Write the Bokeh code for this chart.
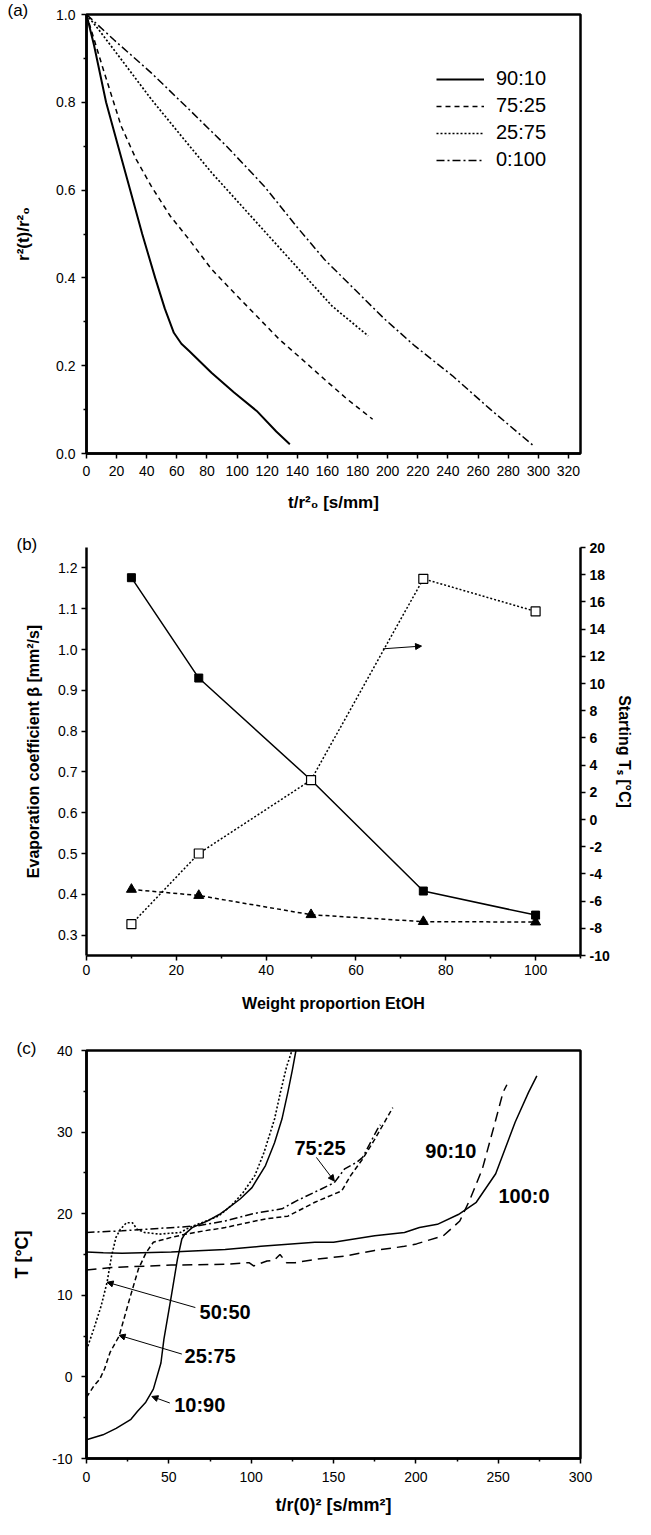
from bokeh.plotting import figure
from bokeh.models import (Range1d, LinearAxis, FixedTicker, Label, Arrow, NormalHead,
                          Legend, LegendItem, NumeralTickFormatter)
from bokeh.layouts import column
from bokeh.embed import file_html
from bokeh.resources import INLINE

FONT = "Liberation Sans"

# ---------------- panel (a) data ----------------
a_labels = ["90:10", "75:25", "25:75", "0:100"]
a_x_9010 = [0, 5, 13, 21, 29, 37, 45.6, 52, 58, 63, 68, 83, 98, 113, 126, 135]
a_y_9010 = [1.0, 0.93, 0.80, 0.70, 0.60, 0.50, 0.40, 0.33, 0.275, 0.25, 0.234, 0.184, 0.139, 0.097, 0.05, 0.021]
a_x_7525 = [0, 10.5, 23, 33, 43, 55.6, 68, 83, 98, 113, 128, 143, 158, 173, 190]
a_y_7525 = [1.0, 0.882, 0.746, 0.67, 0.609, 0.541, 0.488, 0.42, 0.366, 0.313, 0.26, 0.215, 0.169, 0.124, 0.078]
a_x_2575 = [0, 8, 23, 43, 63, 83, 103, 123, 143, 163, 187]
a_y_2575 = [1.0, 0.966, 0.898, 0.807, 0.723, 0.64, 0.564, 0.488, 0.412, 0.336, 0.268]
a_x_0100 = [0, 18, 43, 68, 93, 118, 140, 158, 178, 198, 218, 243, 268, 297]
a_y_0100 = [1.0, 0.943, 0.867, 0.784, 0.70, 0.609, 0.515, 0.442, 0.374, 0.306, 0.245, 0.177, 0.101, 0.017]
a_xticks = list(range(0, 321, 20))
a_yticks = [0.0, 0.2, 0.4, 0.6, 0.8, 1.0]
a_yminor = [0.1, 0.3, 0.5, 0.7, 0.9]

# ---------------- panel (b) data ----------------
b_etoh = [10, 25, 50, 75, 100]
b_beta_sq = [1.176, 0.93, 0.68, 0.408, 0.349]
b_beta_tri = [0.412, 0.397, 0.35, 0.333, 0.332]
b_ts = [-7.7, -2.5, 2.9, 17.7, 15.3]
b_xticks = [0, 20, 40, 60, 80, 100]
b_xminor = [10, 30, 50, 70, 90, 110]
b_lticks = [0.3, 0.4, 0.5, 0.6, 0.7, 0.8, 0.9, 1.0, 1.1, 1.2]
b_rticks = list(range(-10, 21, 2))

# ---------------- panel (c) data ----------------
c_x_1090 = [0, 10, 18, 27, 31, 36, 40.6, 45.2, 47, 51.5, 55.2, 57.9, 59.7, 64.2, 73.3, 80.6, 84.2,
            93.3, 100.5, 108.7, 114.2, 118.7, 122.3, 125, 127.2]
c_y_1090 = [-7.7, -7.1, -6.3, -5.2, -4.2, -3.1, -1.5, 1.7, 4.6, 9.9, 14.4, 16.9, 17.5, 18.3, 19.1, 19.9, 20.4,
            21.8, 23.2, 25.9, 28.7, 31.6, 34.9, 37.6, 40.0]
c_x_2575 = [0, 4.5, 8, 11, 14.3, 19.8, 26.1, 31.5, 36.1, 40.6, 51.5, 60.6, 71.5, 84.2, 100, 110, 122.3,
            138.7, 155, 160.5, 167.7, 175, 186]
c_y_2575 = [-2.5, -1.1, -0.3, 1.0, 3.0, 5.0, 9.5, 13.2, 15.2, 16.5, 17.1, 17.5, 17.9, 18.3, 19.0, 19.4, 19.7,
            21.4, 22.8, 24.7, 26.7, 29.1, 33.0]
c_x_5050 = [0, 4.3, 8.9, 12.5, 15.2, 17.9, 20.6, 24.3, 27.9, 30.7, 35.2, 44.3, 57, 62.4, 70, 80, 88,
            95.1, 102.3, 107.8, 114.2, 117.8, 121.5, 124.8]
c_y_5050 = [3.3, 5.8, 8.7, 11.6, 14.8, 17.1, 18.1, 18.9, 18.9, 18.1, 17.7, 17.5, 17.7, 18.3, 18.9, 19.7, 21.0,
            22.6, 24.7, 27.5, 31.6, 34.9, 38.0, 40.0]
c_x_7525 = [0, 21.6, 44.2, 67, 84.2, 101, 118.7, 127.8, 142.3, 150.5, 156.8, 164.1, 167.7, 176.8, 178.5]
c_y_7525 = [17.7, 17.9, 18.2, 18.5, 19.1, 20.0, 20.6, 21.6, 23.0, 23.8, 25.5, 26.3, 26.9, 30.4, 30.9]
c_x_9010 = [0, 15.2, 51.5, 84.2, 98.7, 101.5, 109.6, 114, 117.5, 121.5, 126.9, 138.7, 156.8, 175, 193.1,
            200.4, 216.7, 226.7, 233, 240.4, 247.6, 253, 255.3]
c_y_9010 = [13.1, 13.4, 13.7, 13.8, 14.0, 13.6, 14.2, 14.3, 15.0, 14.0, 14.0, 14.4, 14.8, 15.5, 16.0,
            16.3, 17.3, 19.1, 21.8, 25.5, 30.8, 34.9, 35.8]
c_x_1000 = [0, 10.2, 21.6, 51.5, 84.2, 105.9, 138.7, 150, 175, 193.1, 202.2, 213.1, 225.8, 236.7, 248.5,
            260.3, 268.5, 273.5]
c_y_1000 = [15.3, 15.2, 15.15, 15.3, 15.6, 16.0, 16.5, 16.5, 17.3, 17.7, 18.3, 18.7, 19.9, 21.4, 24.9,
            31.2, 34.9, 36.9]
c_xticks = [0, 50, 100, 150, 200, 250, 300]
c_xminor = [25, 75, 125, 175, 225, 275]
c_yticks = [-10, 0, 10, 20, 30, 40]
c_yminor = [-5, 5, 15, 25, 35]
# curve annotations: text, label position, arrow start, arrow end
c_ann_text = ["75:25", "90:10", "100:0", "50:50", "25:75", "10:90"]
c_ann_x = [141.8, 221.3, 265.7, 84.2, 75.1, 68.8]
c_ann_y = [28.1, 27.7, 22.2, 7.9, 2.6, -3.4]
c_arrows = [(139.6, 26.9, 150.5, 24.0), (66.1, 8.5, 12.5, 11.6),
            (57.9, 2.8, 19.8, 5.1), (50.6, -3.2, 39.7, -2.4)]


def style_axis(ax, ticks, minor, label, label_size, standoff, label_standoff, fmt=None, bold_ticks=False):
    ax.ticker = FixedTicker(ticks=ticks, minor_ticks=minor)
    ax.axis_line_width = 2.5
    ax.axis_line_color = "black"
    ax.major_tick_line_width = 1.5
    ax.minor_tick_line_width = 1.5
    ax.major_tick_out = 5
    ax.major_tick_in = 0
    ax.minor_tick_out = 3
    ax.minor_tick_in = 0
    ax.major_label_text_font = FONT
    ax.major_label_text_font_size = "14px"
    ax.major_label_text_color = "black"
    if bold_ticks:
        ax.major_label_text_font_style = "bold"
    ax.major_label_standoff = standoff
    ax.axis_label = label
    ax.axis_label_text_font = FONT
    ax.axis_label_text_font_style = "bold"
    ax.axis_label_text_font_size = label_size
    ax.axis_label_text_color = "black"
    ax.axis_label_standoff = label_standoff
    if fmt is not None:
        ax.formatter = NumeralTickFormatter(format=fmt)


def base_fig(w, h, xr, yr, bl, br, bt, bb):
    p = figure(width=w, height=h, x_range=xr, y_range=yr, output_backend="svg",
               toolbar_location=None, min_border_left=bl, min_border_right=br,
               min_border_top=bt, min_border_bottom=bb)
    p.grid.visible = False
    p.background_fill_color = "white"
    p.border_fill_color = "white"
    return p


def panel_title(p, text, offset, standoff):
    p.title.text = text
    p.title.align = "left"
    p.title.offset = offset
    p.title.standoff = standoff
    p.title.text_font = FONT
    p.title.text_font_size = "17px"
    p.title.text_font_style = "normal"
    p.title.text_color = "black"


# ================= panel (a) =================
pa = base_fig(635, 522, Range1d(0, 328), Range1d(0, 1.0), 86, 3, 14, 69)
pa.outline_line_color = "black"
pa.outline_line_width = 2.5
style_axis(pa.xaxis[0], a_xticks, [], "t/r²₀ [s/mm]", "17px", 7, 14)
style_axis(pa.yaxis[0], a_yticks, a_yminor, "r²(t)/r²₀", "17px", 6, 20, fmt="0.0")

ra1 = pa.line(a_x_9010, a_y_9010, line_color="black", line_width=2)
ra2 = pa.line(a_x_7525, a_y_7525, line_color="black", line_width=1.5, line_dash="5 4")
ra3 = pa.line(a_x_2575, a_y_2575, line_color="black", line_width=1.7, line_dash="2 2")
ra4 = pa.line(a_x_0100, a_y_0100, line_color="black", line_width=1.5, line_dash="8 3 2 3")
leg = Legend(items=[LegendItem(label=a_labels[i], renderers=[r]) for i, r in enumerate([ra1, ra2, ra3, ra4])],
             location=(350, 282), border_line_color=None, background_fill_alpha=0,
             label_text_font=FONT, label_text_font_size="20px", label_text_color="black",
             glyph_width=48, glyph_height=20,
             label_standoff=12, spacing=4, padding=0, margin=0, label_height=22)
pa.add_layout(leg)
panel_title(pa, "(a)", -79, -11)

# ================= panel (b) =================
pb = base_fig(635, 500, Range1d(0, 110), Range1d(0.25, 1.25), 74, 52, 25, 67)
pb.outline_line_color = None
pb.extra_y_ranges = {"T": Range1d(-10, 20)}
style_axis(pb.xaxis[0], b_xticks, b_xminor, "Weight proportion EtOH", "16px", 4, 17)
style_axis(pb.yaxis[0], b_lticks, [], "Evaporation coefficient β [mm²/s]", "16px", 4, 13, fmt="0.0")
rax = LinearAxis(y_range_name="T")
style_axis(rax, b_rticks, [], "Starting Tₛ [°C]", "16px", 4, 3, fmt="0", bold_ticks=True)
pb.add_layout(rax, "right")

pb.line(b_etoh, b_beta_sq, line_color="black", line_width=1.5)
pb.line(b_etoh, b_beta_tri, line_color="black", line_width=1.5, line_dash="4 3")
pb.line(b_etoh, b_ts, line_color="black", line_width=1.5, line_dash="2 2", y_range_name="T")
pb.scatter(b_etoh, b_beta_tri, marker="triangle", size=10, color="black")
pb.scatter(b_etoh, b_beta_sq, marker="square", size=8, color="black")
pb.scatter(b_etoh, b_ts, marker="square", size=9, fill_color="white", line_color="black",
           line_width=1.2, y_range_name="T")
pb.add_layout(Arrow(x_start=66, y_start=12.55, x_end=74.6, y_end=12.75, y_range_name="T",
                    line_width=1, end=NormalHead(size=6, fill_color="black", line_color="black")))
panel_title(pb, "(b)", -70, -13)

# ================= panel (c) =================
pc = base_fig(635, 497, Range1d(0, 300), Range1d(-10, 40), 77, 5, 28, 61)
pc.outline_line_color = "black"
pc.outline_line_width = 2.5
style_axis(pc.xaxis[0], c_xticks, c_xminor, "t/r(0)² [s/mm²]", "18px", 8, 10)
style_axis(pc.yaxis[0], c_yticks, c_yminor, "T [°C]", "18px", 9, 17, fmt="0")

pc.line(c_x_1090, c_y_1090, line_color="black", line_width=1.5)
pc.line(c_x_2575, c_y_2575, line_color="black", line_width=1.5, line_dash="5 3")
pc.line(c_x_5050, c_y_5050, line_color="black", line_width=1.6, line_dash="2 2")
pc.line(c_x_7525, c_y_7525, line_color="black", line_width=1.5, line_dash="8 3 2 3")
pc.line(c_x_9010, c_y_9010, line_color="black", line_width=1.5, line_dash="10 6")
pc.line(c_x_1000, c_y_1000, line_color="black", line_width=1.5)
for t, x, y in zip(c_ann_text, c_ann_x, c_ann_y):
    pc.add_layout(Label(x=x, y=y, text=t, text_font=FONT, text_font_size="20px", text_color="black",
                        text_font_style="bold", text_align="center", text_baseline="middle"))
for xs, ys, xe, ye in c_arrows:
    pc.add_layout(Arrow(x_start=xs, y_start=ys, x_end=xe, y_end=ye, line_width=1,
                        end=NormalHead(size=6, fill_color="black", line_color="black")))
panel_title(pc, "(c)", -70, -15)

layout = column(pa, pb, pc, spacing=0)
open("out.html", "w").write(file_html(layout, INLINE))
